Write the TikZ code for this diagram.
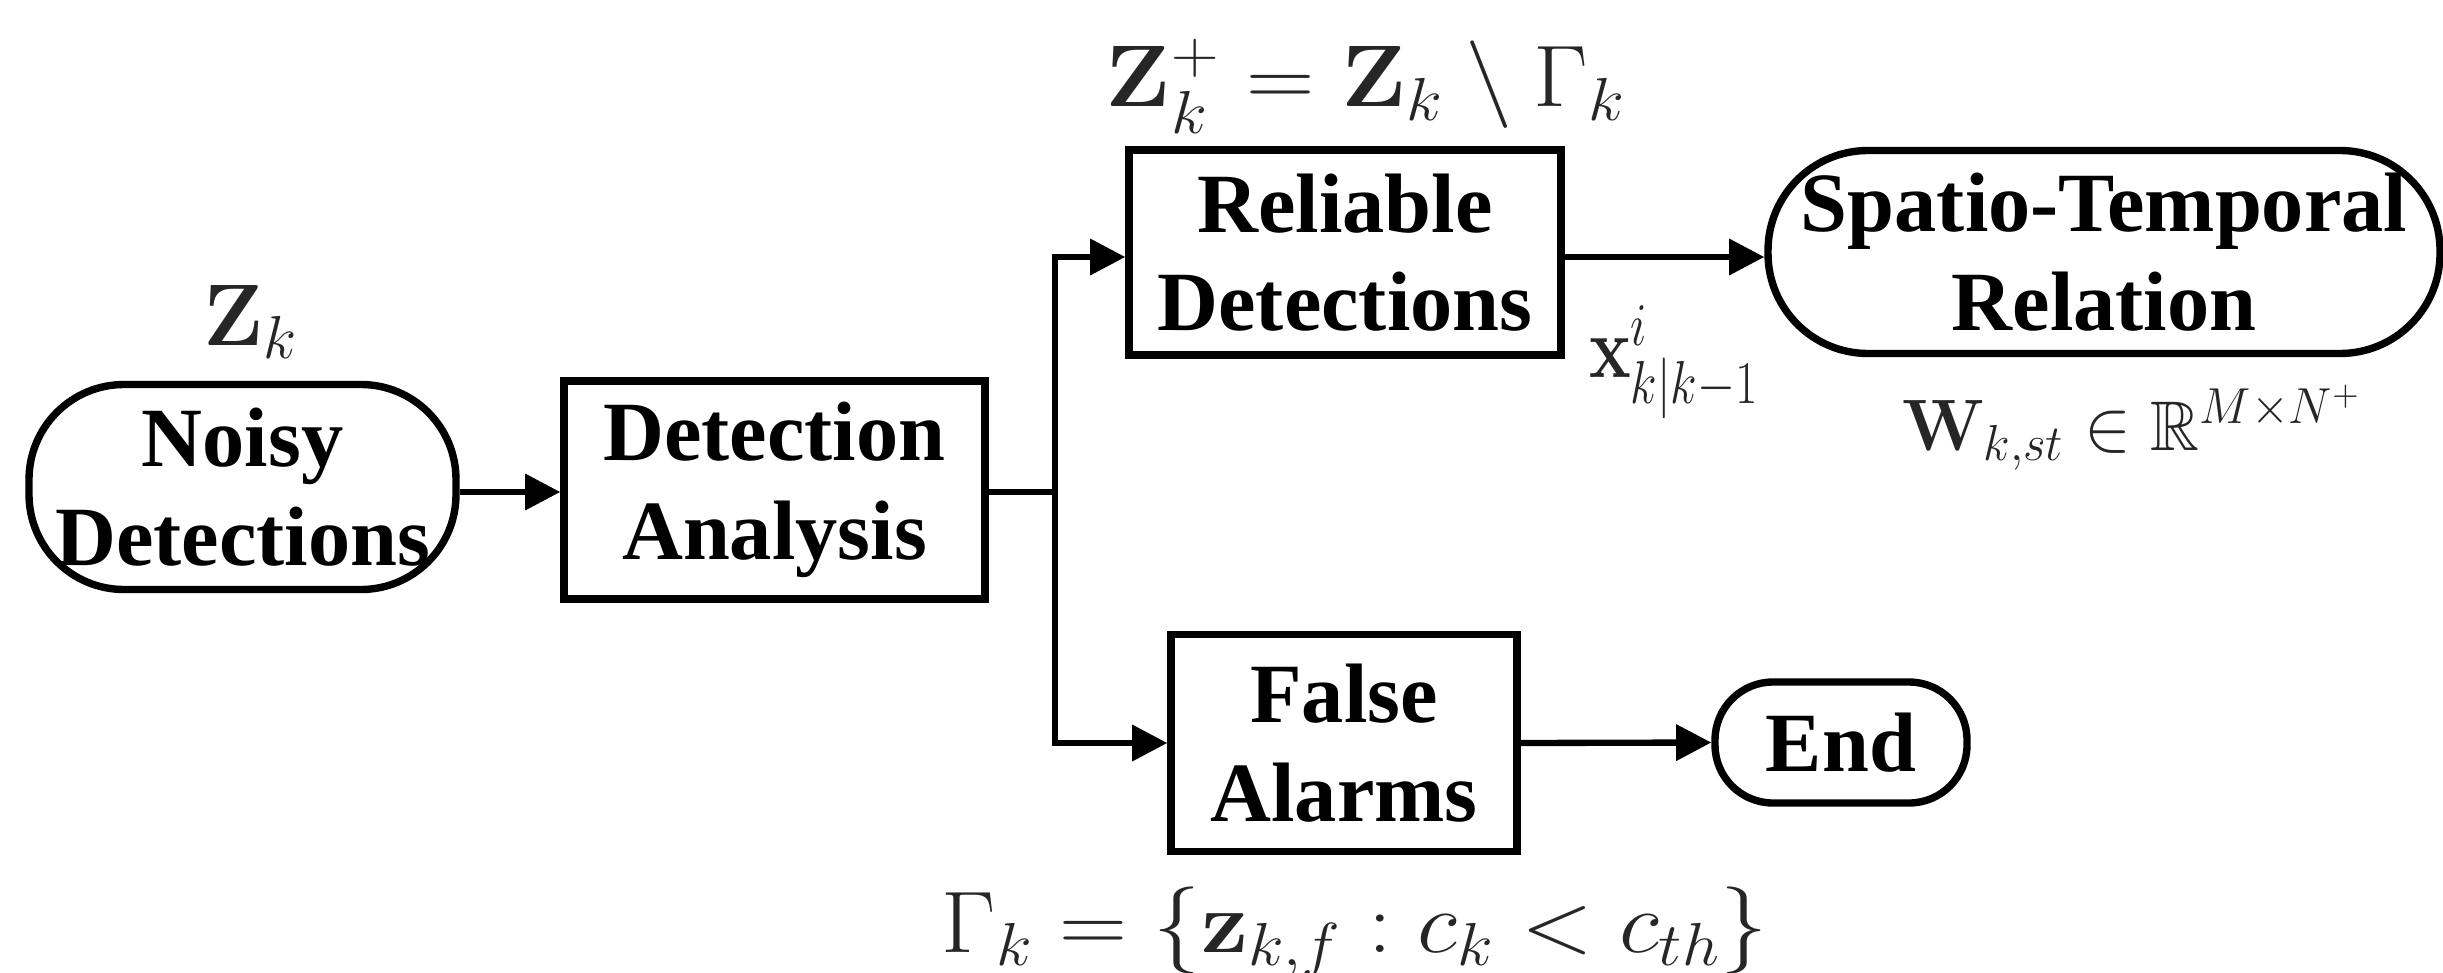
\documentclass[tikz,border=0pt]{standalone}
\usepackage[no-math]{fontspec}
\usepackage{amssymb}
\usepackage{graphicx}
\usetikzlibrary{arrows.meta}
\newfontfamily\tnr{Liberation Serif}
\tikzset{
  blk/.style={draw, line width=2.1pt, align=center, inner sep=0pt,
    font=\tnr\bfseries\fontsize{24}{28}\selectfont},
  boxnode/.style={blk, rectangle},
  stadium/.style={blk, rectangle, rounded corners=#1},
  conn/.style={line width=1.8pt},
  arr/.style={conn, -{Triangle[length=10pt,width=10pt]}},
  mlabel/.style={inner sep=0pt, anchor=base, text=black!85},
}
\newcommand{\mlab}[3]{\resizebox{#1}{\height}{\fontsize{#2}{#2}\selectfont$#3$}}
\begin{document}
\begin{tikzpicture}
\useasboundingbox (0,0) rectangle (24.43,9.72);
% nodes
\node[stadium=0.95cm, minimum width=4.27cm, minimum height=2.05cm] (noisy) at (2.425,4.85) {Noisy\\Detections};
\node[boxnode, minimum width=4.21cm, minimum height=2.18cm] (da) at (7.745,4.82) {Detection\\Analysis};
\node[boxnode, minimum width=4.32cm, minimum height=2.05cm] (rel) at (13.45,7.195) {Reliable\\Detections};
\node[stadium=1.0cm, minimum width=6.72cm, minimum height=2.03cm] (st) at (21.04,7.2) {Spatio-Temporal\\Relation};
\node[boxnode, minimum width=3.46cm, minimum height=2.17cm] (fa) at (13.44,2.29) {False\\Alarms};
\node[stadium=0.58cm, minimum width=2.52cm, minimum height=1.21cm] (end) at (18.41,2.295) {End};
% labels
\node[mlabel] (lz) at (2.51,6.27) {\mlab{0.95cm}{27pt}{\mathbf{Z}_k}};
\node[mlabel] (lzp) at (13.66,8.65) {\mlab{5.20cm}{26.5pt}{\mathbf{Z}_k^{+}=\mathbf{Z}_k\setminus\Gamma_k}};
\node[mlabel] (lx) at (16.74,5.95) {\mlab{1.70cm}{23pt}{\mathbf{x}_{k|k-1}^{i}}};
\node[mlabel] (lw) at (21.32,5.22) {\mlab{4.60cm}{20pt}{\mathbf{W}_{k,st}\in\mathbb{R}^{M\times N^{+}}}};
\node[mlabel] (lg) at (13.55,0.20) {\mlab{8.26cm}{26pt}{\Gamma_k=\left\{\mathbf{z}_{k,f}:c_k<c_{th}\right\}}};
% junctions
\coordinate (ja) at (10.55,4.80);
\coordinate (jr) at (10.55,7.15);
\coordinate (jf) at (10.55,2.29);
% connectors
\draw[arr] (noisy.east |- ja) -- (da.west |- ja);
\draw[conn] (da.east |- ja) -- (ja);
\draw[arr] (ja) -- (jr) -- (rel.west |- jr);
\draw[arr] (ja) -- (jf) -- (fa.west);
\draw[arr] (rel.east |- jr) -- (st.west |- jr);
\draw[arr] (fa.east) -- (end.west);
\end{tikzpicture}
\end{document}
